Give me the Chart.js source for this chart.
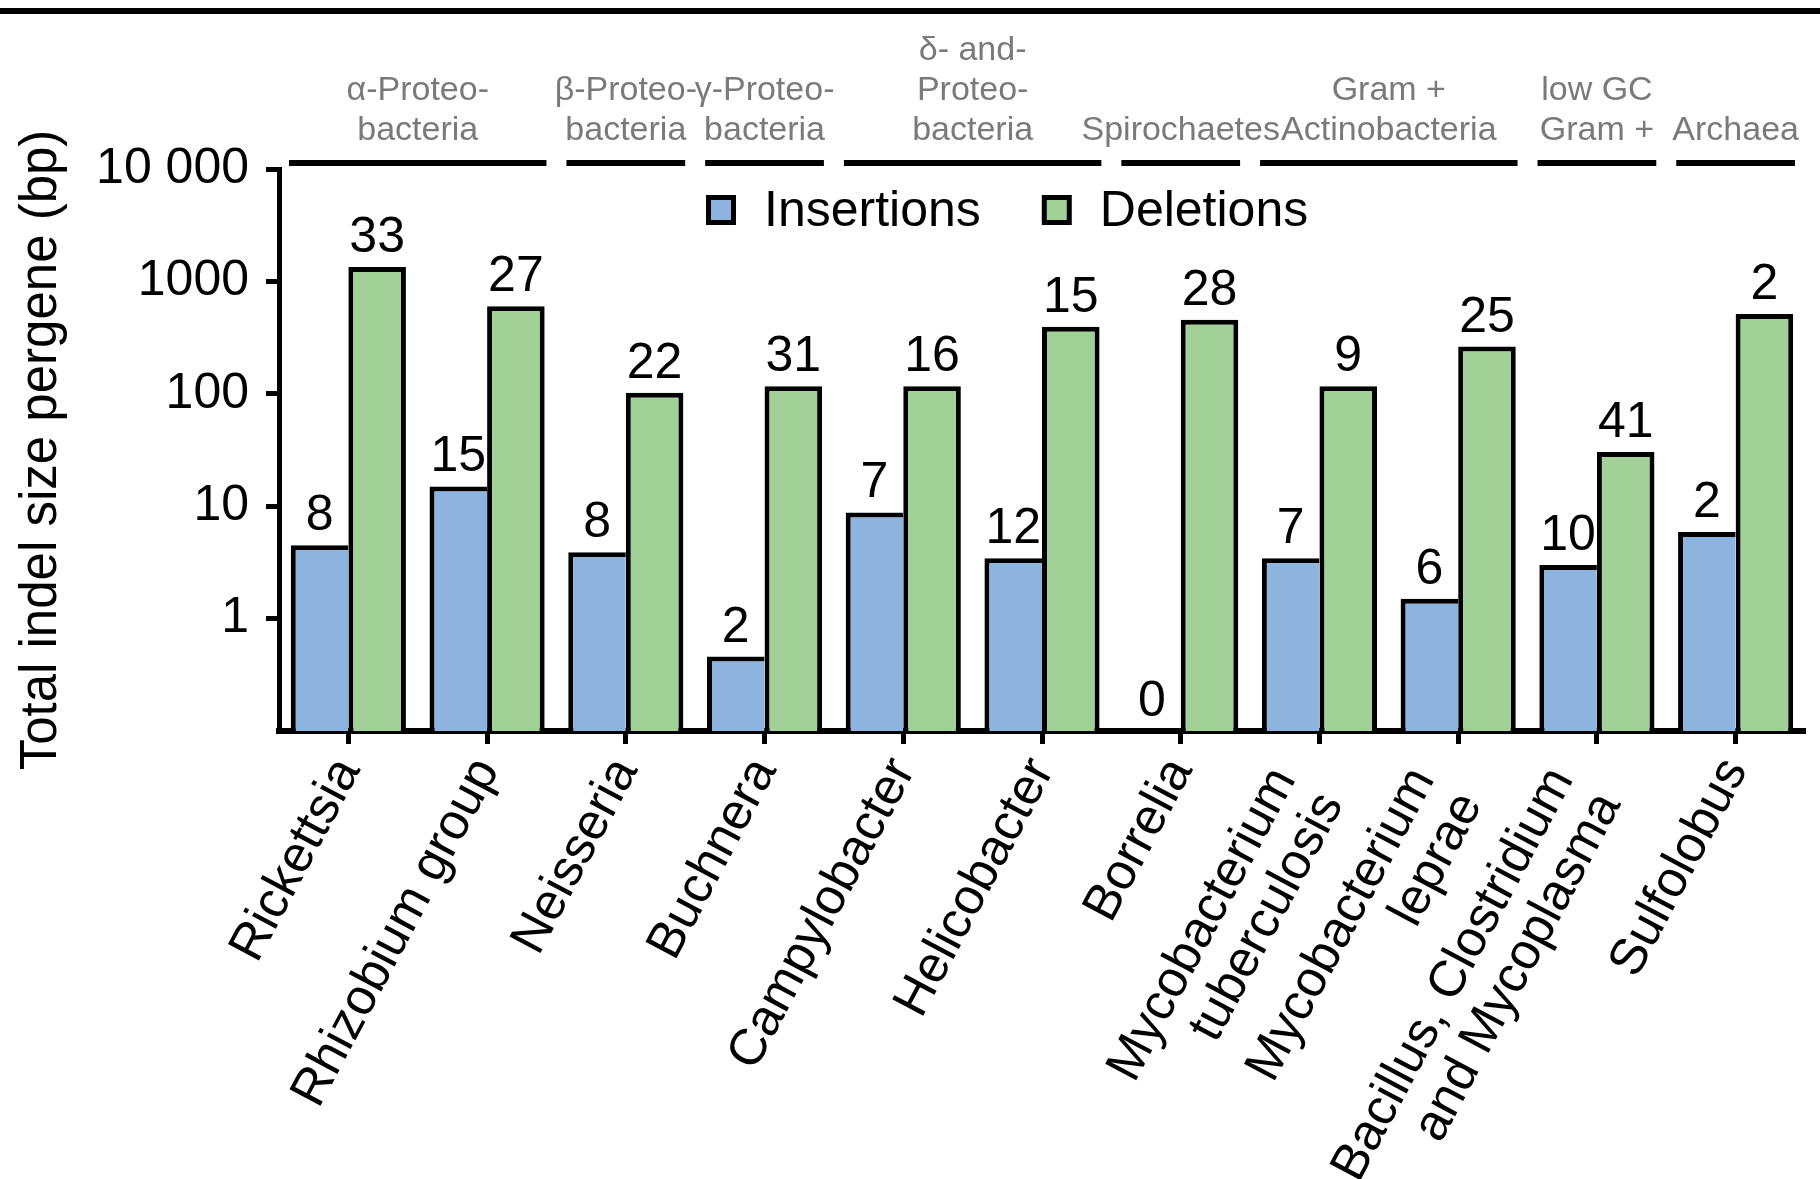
<!DOCTYPE html>
<html>
<head>
<meta charset="utf-8">
<script src="https://cdn.jsdelivr.net/npm/chart.js@4.4.1/dist/chart.umd.min.js"></script>
<style>
  html, body { margin: 0; padding: 0; background: #fff; }
  #wrap { width: 1820px; height: 1179px; }
</style>
</head>
<body>
<div id="wrap"><canvas id="indelChart" width="1820" height="1179"></canvas></div>
<script>
const FONT = '"Liberation Sans", Arial, Helvetica, sans-serif';

const categories = [
  'Rickettsia',
  'Rhizobium group',
  'Neisseria',
  'Buchnera',
  'Campylobacter',
  'Helicobacter',
  'Borrelia',
  ['Mycobacterium', 'tuberculosis'],
  ['Mycobacterium', 'leprae'],
  ['Bacillus, Clostridium', 'and Mycoplasma'],
  'Sulfolobus'
];

// total indel size per gene (bp), log axis
const insertions = [4.5, 15, 3.9, 0.46, 8.8, 3.45, null, 3.45, 1.5, 3.0, 5.9];
const deletions = [1340, 600, 102, 117, 117, 395, 455, 117, 263, 30.4, 512];

// number of events printed over each bar
const insertionCounts = [8, 15, 8, 2, 7, 12, 0, 7, 6, 10, 2];
const deletionCounts = [33, 27, 22, 31, 16, 15, 28, 9, 25, 41, 2];

const tickValues = [1, 10, 100, 1000, 10000];
const tickLabels = ['1', '10', '100', '1000', '10 000'];

// taxonomic groups drawn above the plot
const groupLabels = [
  ['α-Proteo-', 'bacteria'],
  ['β-Proteo-', 'bacteria'],
  ['γ-Proteo-', 'bacteria'],
  ['δ- and-', 'Proteo-', 'bacteria'],
  ['Spirochaetes'],
  ['Gram +', 'Actinobacteria'],
  ['low GC', 'Gram +'],
  ['Archaea']
];
const groupFirst = [0, 2, 3, 4, 6, 7, 9, 10];
const groupLast = [1, 2, 3, 5, 6, 8, 9, 10];

const BLUE = '#8db3df';
const GREEN = '#a1d197';
const LABEL_ANGLE = 62;

const groupBands = {
  id: 'groupBands',
  afterDraw(chart) {
    const { ctx } = chart;
    const xs = chart.scales.x;
    const half = (xs.getPixelForValue(1) - xs.getPixelForValue(0)) / 2;
    ctx.save();
    ctx.fillStyle = '#000';
    ctx.fillRect(0, 8, chart.width, 6);
    ctx.font = '34px ' + FONT;
    ctx.textAlign = 'center';
    ctx.textBaseline = 'alphabetic';
    groupLabels.forEach((lines, g) => {
      const x0 = xs.getPixelForValue(groupFirst[g]) - half + 10;
      const x1 = xs.getPixelForValue(groupLast[g]) + half - 10;
      ctx.fillStyle = '#000';
      ctx.fillRect(x0, 160, x1 - x0, 6);
      ctx.fillStyle = '#7a7a7a';
      const mid = (x0 + x1) / 2;
      lines.forEach((t, k) => {
        ctx.fillText(t, mid, 140 - (lines.length - 1 - k) * 40);
      });
    });
    ctx.restore();
  }
};

const boxLegend = {
  id: 'boxLegend',
  afterDraw(chart) {
    const { ctx } = chart;
    ctx.save();
    ctx.font = '50px ' + FONT;
    ctx.textBaseline = 'middle';
    ctx.textAlign = 'left';
    let x = 706;
    const y = 210;
    chart.data.datasets.forEach(ds => {
      ctx.fillStyle = '#000';
      ctx.fillRect(x, y - 15, 30, 30);
      ctx.fillStyle = ds.backgroundColor;
      ctx.fillRect(x + 5, y - 10, 20, 20);
      ctx.fillStyle = '#000';
      ctx.fillText(ds.label, x + 58, y + 2);
      x += 58 + ctx.measureText(ds.label).width + 61;
    });
    ctx.restore();
  }
};

const countLabels = {
  id: 'countLabels',
  afterDatasetsDraw(chart) {
    const { ctx, chartArea } = chart;
    ctx.save();
    ctx.font = '50px ' + FONT;
    ctx.fillStyle = '#000';
    ctx.textAlign = 'center';
    ctx.textBaseline = 'alphabetic';
    [insertionCounts, deletionCounts].forEach((counts, d) => {
      chart.getDatasetMeta(d).data.forEach((bar, i) => {
        const top = Number.isFinite(bar.y) ? Math.min(bar.y, chartArea.bottom) : chartArea.bottom;
        ctx.fillText(String(counts[i]), bar.x, top - 15);
      });
    });
    ctx.restore();
  }
};

// two-line category names are centred on their tick and pushed a little
// further down along the text direction
const centreMultiline = {
  id: 'centreMultiline',
  beforeDraw(chart) {
    const items = chart.scales.x.getLabelItems();
    const a = LABEL_ANGLE * Math.PI / 180;
    const back = 25;
    items.forEach(item => {
      if (Array.isArray(item.label) && item.label.length > 1 && !item._centred) {
        item.textOffset -= (item.label.length - 1) * item.font.lineHeight / 2;
        const t = item.options.translation;
        item.options.translation = [t[0] - back * Math.cos(a), t[1] + back * Math.sin(a)];
        item._centred = true;
      }
    });
  }
};

new Chart(document.getElementById('indelChart'), {
  type: 'bar',
  data: {
    labels: categories,
    datasets: [
      {
        label: 'Insertions',
        data: insertions,
        backgroundColor: BLUE,
        borderColor: '#000',
        borderWidth: { left: 5, top: 5, right: 0, bottom: 0 },
        borderSkipped: 'start',
        categoryPercentage: 0.83,
        barPercentage: 1
      },
      {
        label: 'Deletions',
        data: deletions,
        backgroundColor: GREEN,
        borderColor: '#000',
        borderWidth: 5,
        borderSkipped: 'start',
        categoryPercentage: 0.83,
        barPercentage: 1
      }
    ]
  },
  options: {
    responsive: false,
    animation: false,
    devicePixelRatio: 1,
    layout: { padding: { top: 169, right: 15, bottom: 0, left: 0 } },
    plugins: {
      legend: { display: false },
      tooltip: { enabled: false }
    },
    scales: {
      x: {
        grid: {
          display: true,
          drawOnChartArea: false,
          offset: false,
          tickLength: 13,
          tickWidth: 5,
          tickColor: '#000'
        },
        border: { display: true, width: 6, color: '#000' },
        ticks: {
          autoSkip: false,
          maxRotation: LABEL_ANGLE,
          minRotation: LABEL_ANGLE,
          padding: 6,
          color: '#000',
          font: { family: FONT, size: 51, lineHeight: 1.05 }
        },
        afterFit(scale) { scale.height = 448; }
      },
      y: {
        type: 'logarithmic',
        min: 0.1,
        max: 10000,
        grid: {
          display: true,
          drawOnChartArea: false,
          tickLength: 13,
          tickWidth: 5,
          tickColor: '#000'
        },
        border: { display: true, width: 5, color: '#000' },
        afterBuildTicks(scale) {
          scale.ticks = tickValues.map(v => ({ value: v }));
        },
        ticks: {
          padding: 17,
          color: '#000',
          font: { family: FONT, size: 50 },
          callback: (value, index) => tickLabels[index]
        },
        title: {
          display: true,
          text: 'Total indel size pergene (bp)',
          color: '#000',
          font: { family: FONT, size: 51 },
          padding: { top: 11, bottom: 0 }
        },
        afterFit(scale) { scale.width = 279; }
      }
    }
  },
  plugins: [groupBands, boxLegend, countLabels, centreMultiline]
});
</script>
</body>
</html>
